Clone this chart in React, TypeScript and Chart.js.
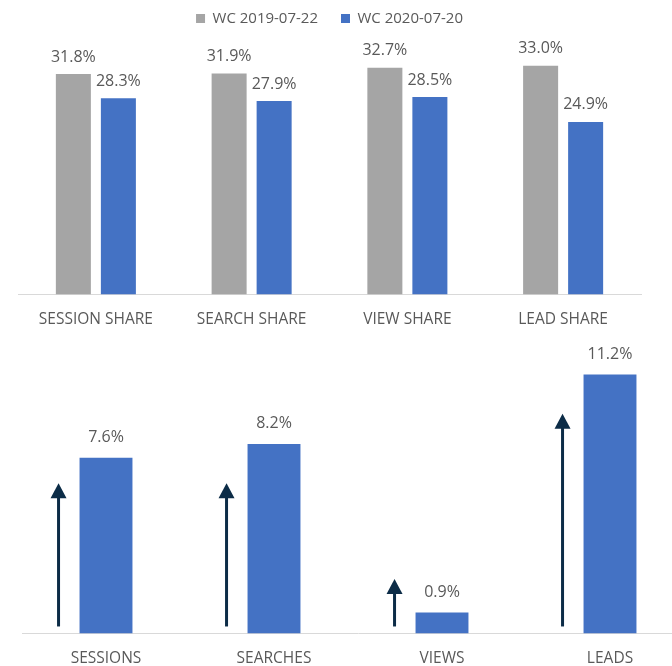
import React, { useEffect, useRef } from "react";
import { Chart, registerables } from "chart.js";

Chart.register(...registerables);

// ---- Data ----
const seriesLabels = ["WC 2019-07-22", "WC 2020-07-20"];
const shareCategories = ["SESSION SHARE", "SEARCH SHARE", "VIEW SHARE", "LEAD SHARE"];
const share2019 = [31.8, 31.9, 32.7, 33.0];
const share2020 = [28.3, 27.9, 28.5, 24.9];

const growthCategories = ["SESSIONS", "SEARCHES", "VIEWS", "LEADS"];
const growthValues = [7.6, 8.2, 0.9, 11.2];
// arrow decorations (start / tip values in axis units)
const arrowStart = [0.3, 0.3, 0.3, 0.3];
const arrowTip = [6.5, 6.5, 2.35, 9.5];

const FONT = '"Open Sans", sans-serif';
const TEXT = "#595959";
const GRAY = "#a5a5a5";
const BLUE = "#4472c4";
const AXIS = "#d9d9d9";
const NAVY = "#0c2c47";

const valueLabels = (offset: number) => ({
  id: "valueLabels",
  afterDatasetsDraw(chart: any) {
    const ctx = chart.ctx;
    ctx.save();
    ctx.font = `16px ${FONT}`;
    ctx.fillStyle = TEXT;
    ctx.textAlign = "center";
    ctx.textBaseline = "middle";
    chart.data.datasets.forEach((ds: any, di: number) => {
      const meta = chart.getDatasetMeta(di);
      meta.data.forEach((el: any, i: number) => {
        ctx.fillText(Number(ds.data[i]).toFixed(1) + "%", el.x, el.y - offset);
      });
    });
    ctx.restore();
  },
});

const arrowPlugin = {
  id: "arrows",
  afterDatasetsDraw(chart: any) {
    const ctx = chart.ctx;
    const y = chart.scales.y;
    const meta = chart.getDatasetMeta(0);
    ctx.save();
    ctx.fillStyle = NAVY;
    ctx.strokeStyle = NAVY;
    meta.data.forEach((el: any, i: number) => {
      const left = el.x - el.width / 2;
      const ax = left - 21;
      const yb = y.getPixelForValue(arrowStart[i]);
      const yt = y.getPixelForValue(arrowTip[i]);
      const headH = 15;
      const headW = 16;
      ctx.lineWidth = 3;
      ctx.beginPath();
      ctx.moveTo(ax, yb);
      ctx.lineTo(ax, yt + headH - 1);
      ctx.stroke();
      ctx.beginPath();
      ctx.moveTo(ax, yt);
      ctx.lineTo(ax - headW / 2, yt + headH);
      ctx.lineTo(ax + headW / 2, yt + headH);
      ctx.closePath();
      ctx.fill();
    });
    ctx.restore();
  },
};

export default function App() {
  const topRef = useRef<HTMLCanvasElement | null>(null);
  const botRef = useRef<HTMLCanvasElement | null>(null);

  useEffect(() => {
    const top = new Chart(topRef.current as HTMLCanvasElement, {
      type: "bar",
      data: {
        labels: shareCategories,
        datasets: [
          { label: seriesLabels[0], data: share2019, backgroundColor: GRAY, borderWidth: 0 },
          { label: seriesLabels[1], data: share2020, backgroundColor: BLUE, borderWidth: 0 },
        ],
      },
      options: {
        responsive: false,
        animation: false,
        devicePixelRatio: 1,
        layout: { padding: { left: 18, right: 31, top: -12, bottom: -9 } },
        plugins: {
          legend: {
            display: true,
            position: "top",
            labels: {
              boxWidth: 9,
              boxHeight: 9,
              padding: 23,
              color: TEXT,
              font: { family: FONT, size: 15 },
            },
          },
          tooltip: { enabled: false },
        },
        datasets: { bar: { categoryPercentage: 0.578, barPercentage: 0.778 } },
        scales: {
          x: {
            grid: { display: false, drawTicks: false },
            border: { display: true, color: AXIS, width: 1 },
            ticks: { color: TEXT, font: { family: FONT, size: 15.5 }, padding: 16, maxRotation: 0 },
          },
          y: { display: false, min: 0, max: 37.3 },
        },
      },
      plugins: [valueLabels(17)],
    } as any);

    const bot = new Chart(botRef.current as HTMLCanvasElement, {
      type: "bar",
      data: {
        labels: growthCategories,
        datasets: [
          { label: "Change", data: growthValues, backgroundColor: BLUE, borderWidth: 0 },
        ],
      },
      options: {
        responsive: false,
        animation: false,
        devicePixelRatio: 1,
        layout: { padding: { left: 22, right: 6, top: 0, bottom: -18 } },
        plugins: { legend: { display: false }, tooltip: { enabled: false } },
        datasets: { bar: { categoryPercentage: 1, barPercentage: 0.315 } },
        scales: {
          x: {
            grid: { display: false, drawTicks: false },
            border: { display: true, color: AXIS, width: 1 },
            ticks: { color: TEXT, font: { family: FONT, size: 15.5 }, padding: 16, maxRotation: 0 },
          },
          y: { display: false, min: 0, max: 12.87 },
        },
      },
      plugins: [valueLabels(20.5), arrowPlugin],
    } as any);

    return () => {
      top.destroy();
      bot.destroy();
    };
  }, []);

  return (
    <div
      style={{
        position: "absolute",
        left: 0,
        top: 0,
        width: 672,
        height: 666,
        overflow: "hidden",
        background: "#ffffff",
      }}
    >
      <div style={{ position: "absolute", left: 0, top: 0, width: 672, height: 336 }}>
        <canvas ref={topRef} width={672} height={336} style={{ display: "block" }} />
      </div>
      <div style={{ position: "absolute", left: 0, top: 336, width: 700, height: 330 }}>
        <canvas ref={botRef} width={700} height={330} style={{ display: "block" }} />
      </div>
    </div>
  );
}
